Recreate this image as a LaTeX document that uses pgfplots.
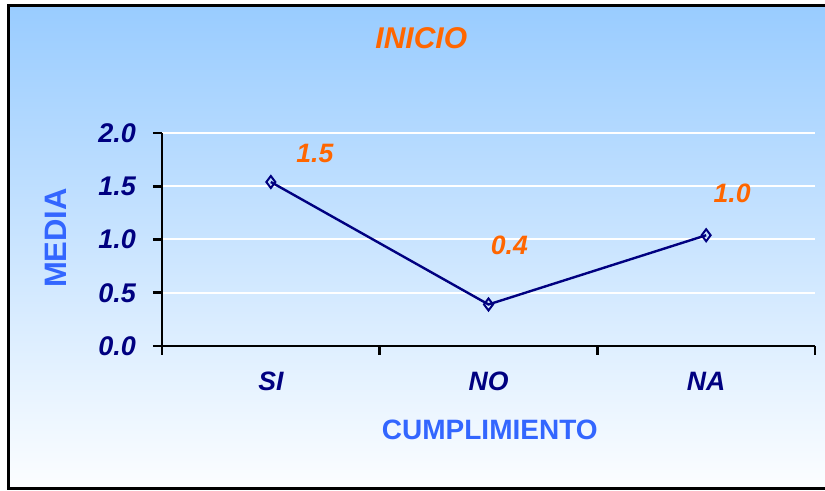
\documentclass[border=0pt]{standalone}
\usepackage{pgfplots}
\pgfplotsset{compat=1.18}
\usepackage{fontspec}
\setmainfont{Liberation Sans}
\definecolor{navy}{RGB}{0,0,128}
\definecolor{orng}{RGB}{255,102,0}
\definecolor{lblue}{RGB}{51,102,255}
\definecolor{bgtop}{RGB}{153,204,255}
\definecolor{mk}{RGB}{215,232,255}
\begin{document}
\begin{tikzpicture}
\useasboundingbox (0,0) rectangle (412.5pt,-245.5pt);
\fill[white] (0,0) rectangle (412.5pt,-245.5pt);
\shade[top color=bgtop, bottom color=white!97!bgtop] (4pt,-3pt) rectangle (412.5pt,-244.5pt);
\draw[line width=1.5pt] (412.5pt,-3pt) -- (4pt,-3pt) -- (4pt,-244.5pt) -- (412.5pt,-244.5pt);
\begin{axis}[
  at={(81pt,-173pt)}, anchor=south west,
  scale only axis, width=326.5pt, height=106.5pt,
  xmin=-0.5, xmax=2.5, ymin=0, ymax=2,
  axis lines*=left,
  axis line style={-, line width=1.3pt, black},
  tick style={black, line width=1.3pt},
  tick align=outside,
  major tick length=4.5pt,
  xtick={-0.5,0.5,1.5,2.5},
  xticklabels={},
  extra x ticks={0,1,2},
  extra x tick labels={SI,NO,NA},
  extra x tick style={major tick length=0pt, tick style={draw=none},
    tick label style={font=\fontsize{13.3}{15}\selectfont\bfseries\itshape, text=navy, anchor=center, yshift=-17.5pt}},
  ytick={0,0.5,1,1.5,2},
  yticklabel style={font=\fontsize{13.5}{16}\selectfont\bfseries\itshape, text=navy, xshift=-5pt,
    /pgf/number format/.cd, fixed, fixed zerofill, precision=1, assume math mode=true},
  ymajorgrids,
  major grid style={white, line width=1pt},
  title={INICIO},
  title style={at={(axis description cs:0.397,1.39)}, anchor=center,
    font=\fontsize{15}{18}\selectfont\bfseries\itshape, text=orng},
  xlabel={CUMPLIMIENTO},
  xlabel style={at={(axis description cs:0.502,-0.394)}, anchor=center,
    font=\fontsize{14}{17}\selectfont\bfseries, text=lblue},
  ylabel={MEDIA},
  ylabel style={at={(axis description cs:-0.162,0.507)}, anchor=center, rotate=0,
    font=\fontsize{15.5}{18}\selectfont\bfseries, text=lblue},
  clip=false,
]
\addplot[navy, line width=1.2pt, mark=diamond, mark size=3pt,
  mark options={solid, fill=mk, line width=1pt}]
  coordinates {(0,1.54) (1,0.39) (2,1.04)};
\node[text=orng, font=\fontsize{13.3}{15}\selectfont\bfseries\itshape] at (axis cs:0.202,1.812) {1.5};
\node[text=orng, font=\fontsize{13.3}{15}\selectfont\bfseries\itshape] at (axis cs:1.096,0.948) {0.4};
\node[text=orng, font=\fontsize{13.3}{15}\selectfont\bfseries\itshape] at (axis cs:2.119,1.437) {1.0};
\end{axis}
\end{tikzpicture}
\end{document}
